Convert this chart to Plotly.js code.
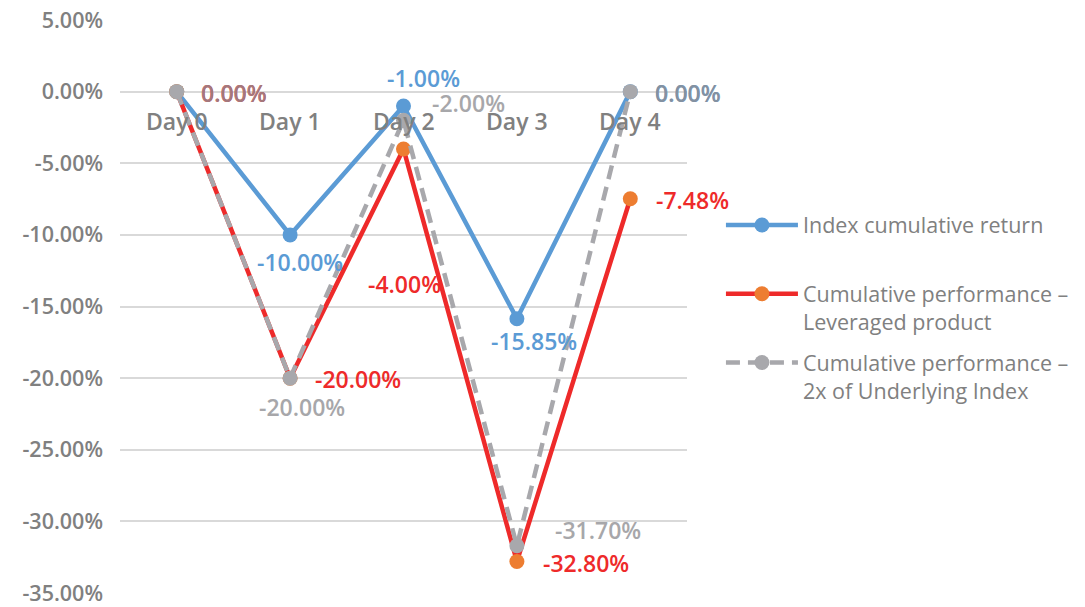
<!DOCTYPE html>
<html>
<head>
<meta charset="utf-8">
<script src="https://cdn.plot.ly/plotly-3.0.1.min.js"></script>
<style>html,body{margin:0;padding:0;background:#fff;}#chart{width:1085px;height:607px;}</style>
</head>
<body>
<div id="chart"></div>
<script>
// ---- data ----
const days = ["Day 0", "Day 1", "Day 2", "Day 3", "Day 4"];
const indexReturn = [0.00, -10.00, -1.00, -15.85, 0.00];
const leveraged = [0.00, -20.00, -4.00, -32.80, -7.48];
const twoX = [0.00, -20.00, -2.00, -31.70, 0.00];
const yTicks = [5, 0, -5, -10, -15, -20, -25, -30, -35];
const seriesNames = [
  "Index cumulative return",
  "Cumulative performance –<br>Leveraged product",
  "Cumulative performance –<br>2x of Underlying Index"
];

// ---- styling / label placement (pixel offsets) ----
const FONT = "Open Sans, Noto Sans, sans-serif";
const BLUE = "#5B9BD5", RED = "#EE2A2A", ORANGE = "#ED7D31", GRAY = "#A8A8AC";
const GRAYTXT = "#808080";
const idxOff = [null, [10, -27], [20, 28], [17, -22], [58, -1]];
const levOff = [[57, -1], [68, -1], [1, -135], [69, -2], [62, -1]];
const twoOff = [[57, -1], [12, -29], [65, 17], [81, 16], [58, -1]];

const fmt = v => v.toFixed(2) + "%";

const traces = [
  {x: days, y: indexReturn, name: seriesNames[0], type: "scatter", mode: "lines+markers",
   line: {color: BLUE, width: 4.5}, marker: {color: BLUE, size: 15}, legend: "legend"},
  {x: days, y: leveraged, name: seriesNames[1], type: "scatter", mode: "lines+markers",
   line: {color: RED, width: 4.5}, marker: {color: ORANGE, size: 15}, legend: "legend2"},
  {x: days, y: twoX, name: seriesNames[2], type: "scatter", mode: "lines+markers",
   line: {color: GRAY, width: 4.5, dash: "14px,8px"}, marker: {color: GRAY, size: 15}, legend: "legend3"}
];

const annotations = [];
function addLabels(vals, offs, color, opacity) {
  vals.forEach((v, i) => {
    if (!offs[i]) return;
    annotations.push({x: days[i], y: v, xref: "x", yref: "y", text: fmt(v), showarrow: false,
      xshift: offs[i][0], yshift: offs[i][1], opacity: opacity,
      font: {family: FONT, size: 23, color: color, weight: 600}});
  });
}
addLabels(indexReturn, idxOff, BLUE, 1);
addLabels(leveraged, levOff, RED, 1);
addLabels(twoX, twoOff, "#8f8f93", 0.78);
days.forEach((d) => {
  annotations.push({x: d, y: 0, xref: "x", yref: "y", text: d, showarrow: false, yshift: -29,
    font: {family: FONT, size: 23, color: GRAYTXT, weight: 600}});
});

const legFont = {family: FONT, size: 21.5, color: GRAYTXT};
const legBase = {font: legFont, xanchor: "left", yanchor: "top", valign: "top", itemwidth: 72,
  bgcolor: "rgba(0,0,0,0)", itemclick: false, itemdoubleclick: false};

const layout = {
  width: 1085, height: 607,
  margin: {l: 120, r: 397, t: 20, b: 14},
  paper_bgcolor: "#fff", plot_bgcolor: "#fff",
  showlegend: true,
  legend: Object.assign({}, legBase, {x: 1.058, y: 0.678}),
  legend2: Object.assign({}, legBase, {x: 1.058, y: 0.558}),
  legend3: Object.assign({}, legBase, {x: 1.058, y: 0.438}),
  xaxis: {type: "category", range: [-0.5, 4.5], showticklabels: false, showgrid: false,
    zeroline: false, showline: false, ticks: ""},
  yaxis: {range: [-35, 5], tickvals: yTicks, ticktext: yTicks.map(fmt), showgrid: true,
    gridcolor: "#D9D9D9", gridwidth: 2, zeroline: false, showline: false, ticks: "",
    ticklabelstandoff: 16,
    tickfont: {family: FONT, size: 21.5, color: GRAYTXT, weight: 600}},
  annotations: annotations
};

Plotly.newPlot("chart", traces, layout, {displayModeBar: false, staticPlot: true});
</script>
</body>
</html>
